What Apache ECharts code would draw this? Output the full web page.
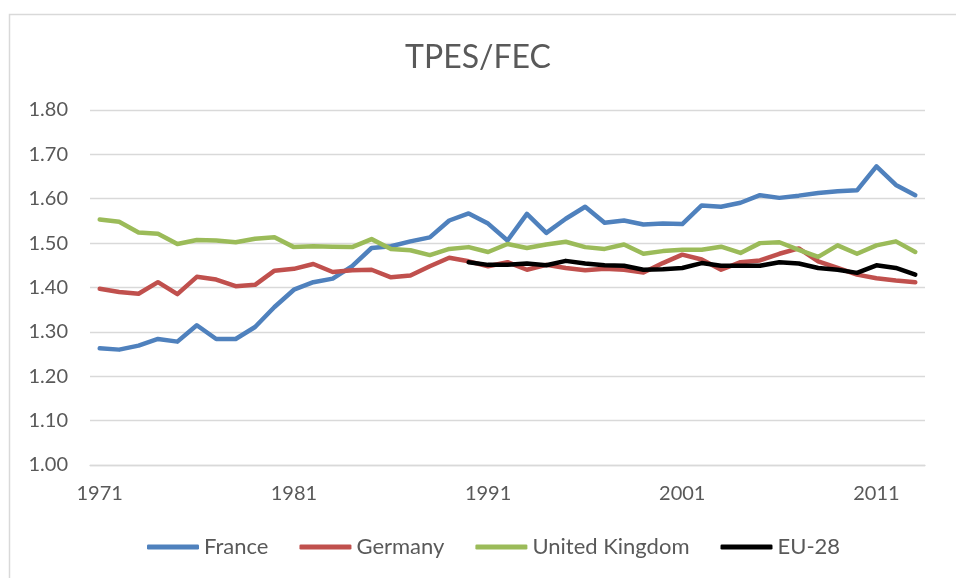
<!DOCTYPE html>
<html>
<head>
<meta charset="utf-8">
<title>TPES/FEC</title>
<script src="https://cdn.jsdelivr.net/npm/echarts@6/dist/echarts.min.js"></script>
<style>
    html, body { margin: 0; padding: 0; background: #fff; }
    #chart { width: 956px; height: 578px; }
</style>
</head>
<body>
<div id="chart"></div>
<script>
    var years = ['1971', '1972', '1973', '1974', '1975', '1976', '1977', '1978', '1979', '1980',
        '1981', '1982', '1983', '1984', '1985', '1986', '1987', '1988', '1989', '1990',
        '1991', '1992', '1993', '1994', '1995', '1996', '1997', '1998', '1999', '2000',
        '2001', '2002', '2003', '2004', '2005', '2006', '2007', '2008', '2009', '2010',
        '2011', '2012', '2013'];

    var france = [1.263, 1.260, 1.269, 1.284, 1.278, 1.315, 1.284, 1.284, 1.311, 1.356,
        1.395, 1.412, 1.420, 1.448, 1.489, 1.493, 1.504, 1.513, 1.551, 1.567,
        1.544, 1.506, 1.566, 1.523, 1.555, 1.582, 1.546, 1.551, 1.542, 1.544,
        1.543, 1.585, 1.582, 1.591, 1.608, 1.602, 1.607, 1.613, 1.617, 1.619,
        1.673, 1.631, 1.608];

    var germany = [1.397, 1.390, 1.386, 1.412, 1.385, 1.424, 1.418, 1.403, 1.406, 1.438,
        1.442, 1.453, 1.435, 1.439, 1.440, 1.423, 1.427, 1.448, 1.467, 1.459,
        1.448, 1.457, 1.440, 1.451, 1.444, 1.439, 1.442, 1.440, 1.434, 1.455,
        1.474, 1.463, 1.440, 1.457, 1.461, 1.476, 1.488, 1.459, 1.444, 1.429,
        1.421, 1.416, 1.412];

    var uk = [1.553, 1.548, 1.524, 1.521, 1.498, 1.507, 1.506, 1.502, 1.510, 1.513,
        1.491, 1.493, 1.492, 1.491, 1.509, 1.487, 1.484, 1.473, 1.487, 1.491,
        1.480, 1.498, 1.489, 1.497, 1.503, 1.491, 1.487, 1.497, 1.476, 1.482,
        1.485, 1.485, 1.492, 1.478, 1.500, 1.502, 1.485, 1.469, 1.495, 1.476,
        1.495, 1.504, 1.480];

    // EU-28 series starts in 1990
    var eu28 = [null, null, null, null, null, null, null, null, null, null,
        null, null, null, null, null, null, null, null, null, 1.457,
        1.451, 1.451, 1.454, 1.450, 1.460, 1.454, 1.450, 1.449, 1.440, 1.441,
        1.444, 1.455, 1.449, 1.449, 1.449, 1.457, 1.454, 1.444, 1.440, 1.433,
        1.450, 1.444, 1.429];

    var seriesNames = ['France', 'Germany', 'United Kingdom', 'EU-28'];
    var seriesColors = ['#4F81BD', '#C0504D', '#9BBB59', '#000000'];
    var seriesData = [france, germany, uk, eu28];

    var textColor = '#595959',
        gridColor = '#D9D9D9',
        fontName = 'Lato';

    var chart = echarts.init(document.getElementById('chart'));

    var series = [];
    for (var i = 0; i < seriesNames.length; i++) {
        series.push({
            name: seriesNames[i],
            type: 'line',
            data: seriesData[i],
            symbol: 'none',
            silent: true,
            lineStyle: {
                width: 4.5,
                color: seriesColors[i],
                cap: 'round',
                join: 'round'
            },
            itemStyle: { color: seriesColors[i] }
        });
    }

    chart.setOption({
        animation: false,
        backgroundColor: '#fff',
        graphic: [{
            type: 'rect',
            left: 7,
            top: 12,
            shape: { width: 1000, height: 1000 },
            style: { fill: 'none', stroke: gridColor, lineWidth: 1.5 },
            silent: true
        }],
        title: {
            text: 'TPES/FEC',
            left: 'center',
            top: 37,
            textStyle: {
                fontFamily: fontName,
                fontSize: 32,
                fontWeight: 'normal',
                color: textColor
            }
        },
        legend: {
            bottom: 15,
            left: 142,
            icon: 'roundRect',
            itemWidth: 52,
            itemHeight: 5,
            itemGap: 31,
            data: seriesNames,
            textStyle: {
                fontFamily: fontName,
                fontSize: 22,
                color: textColor
            }
        },
        grid: {
            left: 90,
            right: 31,
            top: 110,
            bottom: 113
        },
        xAxis: {
            type: 'category',
            data: years,
            boundaryGap: true,
            axisLine: { lineStyle: { color: gridColor, width: 1.3 } },
            axisTick: { show: false },
            splitLine: { show: false },
            axisLabel: {
                interval: 9,
                margin: 19,
                fontFamily: fontName,
                fontSize: 20,
                color: textColor
            }
        },
        yAxis: {
            type: 'value',
            min: 1,
            max: 1.8,
            interval: 0.1,
            axisLine: { show: false },
            axisTick: { show: false },
            splitLine: { lineStyle: { color: gridColor, width: 1.3 } },
            axisLabel: {
                margin: 22,
                fontFamily: fontName,
                fontSize: 20,
                color: textColor,
                formatter: function (v) {
                    return v.toFixed(2);
                }
            }
        },
        series: series
    });
</script>
</body>
</html>
